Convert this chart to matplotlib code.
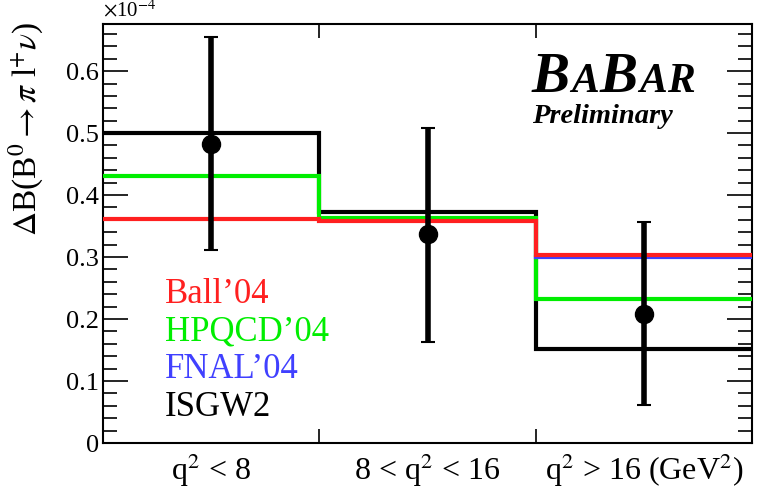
import numpy as np
import matplotlib
matplotlib.use("Agg")
import matplotlib.pyplot as plt
from matplotlib.ticker import MultipleLocator

plt.rcParams['font.family'] = ['Liberation Serif', 'DejaVu Serif']
plt.rcParams['mathtext.fontset'] = 'stix'

# bins in q^2
edges = [0, 1, 2, 3]
bin_labels = [r'q$^{2}$ < 8', r'8 < q$^{2}$ < 16', r'q$^{2}$ > 16 (GeV$^{2}$)']

# measured partial branching fractions (x 1e-4)
data_val = [0.483, 0.337, 0.208]
err_up = [0.655, 0.508, 0.356]
err_lo = [0.311, 0.163, 0.061]

# model predictions
isgw2 = [0.500, 0.373, 0.152]
hpqcd = [0.430, 0.363, 0.232]
fnal = [np.nan, np.nan, 0.300]
ball = [0.362, 0.358, 0.303]

W, H = 761, 498
fig = plt.figure(figsize=(W / 100, H / 100), dpi=100)
ax = fig.add_axes([103 / W, 1 - 443 / H, (752 - 103) / W, (443 - 24) / H])

ax.stairs(isgw2, edges, baseline=None, color='black', lw=3, zorder=2)
ax.stairs(hpqcd, edges, baseline=None, color='#00ee00', lw=3, zorder=3)
ax.plot([2, 3], [fnal[2], fnal[2]], color='#4040ff', lw=3, zorder=4)
ax.stairs(ball, edges, baseline=None, color='#ff2020', lw=3, zorder=5)

centers = [0.5, 1.5, 2.5]
yerr = [np.array(data_val) - np.array(err_lo), np.array(err_up) - np.array(data_val)]
ax.errorbar(centers, data_val, yerr=yerr, fmt='o', color='black', ms=13,
            elinewidth=4, capsize=5, capthick=1.5, zorder=6)

ax.set_xlim(0, 3)
ax.set_ylim(0, 0.676)

ax.set_xticks(centers)
ax.set_xticklabels(bin_labels, fontsize=23)
ax.tick_params(axis='x', which='major', length=0, pad=6)
ax.set_xticks([1, 2], minor=True)
ax.tick_params(axis='x', which='minor', direction='in', length=10, width=1.2,
               top=True, bottom=True)

ax.yaxis.set_minor_locator(MultipleLocator(0.02))
ax.set_yticks([0, 0.1, 0.2, 0.3, 0.4, 0.5, 0.6])
ax.set_yticklabels(['0', '0.1', '0.2', '0.3', '0.4', '0.5', '0.6'], fontsize=19)
ax.tick_params(axis='y', which='major', direction='in', length=18, width=1.2,
               left=True, right=True, pad=3)
ax.tick_params(axis='y', which='minor', direction='in', length=10, width=1.2,
               left=True, right=True)
for s in ax.spines.values():
    s.set_linewidth(1.5)

ax.set_ylabel(r'$\Delta$B(B$^{0}$$\rightarrow$$\pi$ l$^{+}$$\nu$)', fontsize=24)
ax.yaxis.set_label_coords(-0.088, 0.75)
ax.text(0.0, 1.005, r'$\times$10$^{-4}$', transform=ax.transAxes, fontsize=15,
        ha='left', va='bottom')

# legend as coloured text
leg = [("Ball\u201904", '#ff2020'), ("HPQCD\u201904", '#00ee00'),
       ("FNAL\u201904", '#4040ff'), ("ISGW2", 'black')]
for i, (t, c) in enumerate(leg):
    fig.text(165 / W, 1 - (303 + 37.7 * i) / H, t, color=c, fontsize=25,
             ha='left', va='baseline')

# BaBar logo, letters chained left to right
def px(x, y):
    return x / W, 1 - y / H

renderer = fig.canvas.get_renderer()
x = 532
for t, fs in [('B', 41), ('A', 30), ('B', 41), ('A', 30), ('R', 30)]:
    txt = fig.text(*px(x, 92), t, fontsize=fs, fontweight='bold', style='italic',
                   ha='left', va='baseline')
    bb = txt.get_window_extent(renderer)
    x = bb.x1 + 1
fig.text(*px(532, 123), 'Preliminary', fontsize=20.5, fontweight='bold',
         style='italic', ha='left', va='baseline')

fig.savefig('out.png', dpi=100)
